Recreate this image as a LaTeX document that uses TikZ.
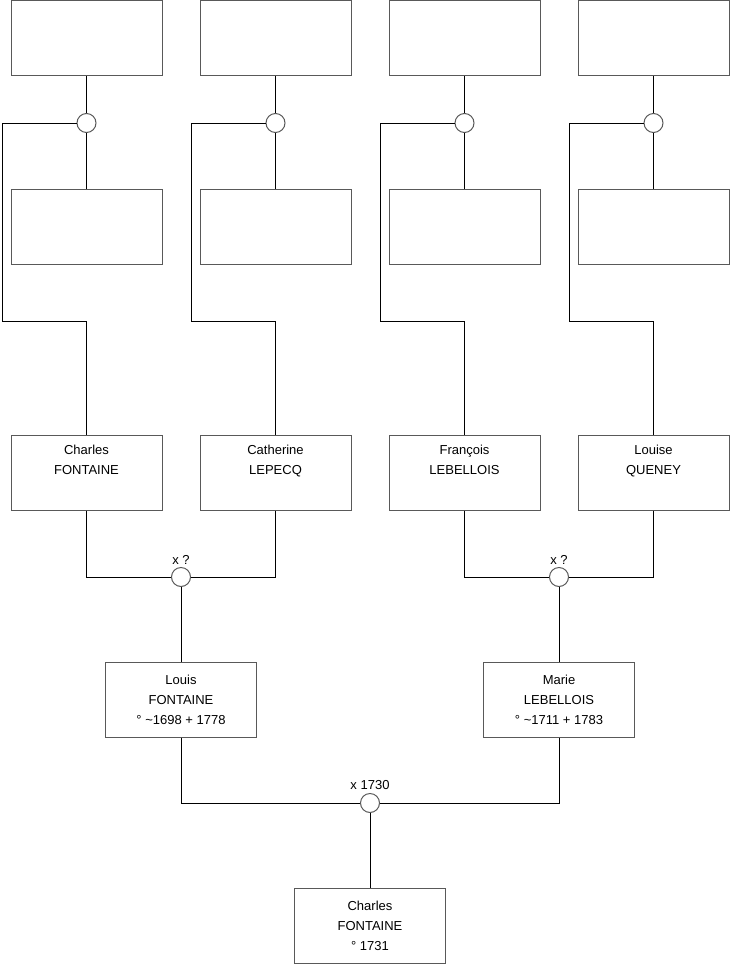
\documentclass[tikz,border=0pt]{standalone}
\usepackage{fontspec}
\setmainfont{Liberation Sans}
\usepackage{tikz}
\usetikzlibrary{positioning}

\tikzset{
  person/.style={draw=black!65, line width=0.75pt, fill=white, minimum width=113.25pt,
    minimum height=56.25pt, align=center, inner sep=0pt,
    font=\fontsize{9.75}{15}\selectfont},
  union/.style={circle, draw=black!65, line width=0.75pt, fill=white, minimum size=14.25pt, inner sep=0pt},
  wedlock/.style={font=\fontsize{9.75}{12}\selectfont, inner sep=2pt},
  link/.style={line width=0.75pt}
}

\begin{document}
\begin{tikzpicture}[x=0.75pt, y=-0.75pt]
        \useasboundingbox (0,0) rectangle (740,975);
        % great-grandparents (unknown) and their unions
        \foreach \i/\cx in {1/86.5, 2/275.5, 3/464.5, 4/653.5} {
            \node[person] (p\i f) at (\cx,38) {};
            \node[person] (p\i m) at (\cx,227) {};
            \node[union] (u\i) at (\cx,123) {};
        }
        % grandparents
        \node[person] (p1) at (86.5,472.5) {Charles\\FONTAINE\\\strut};
        \node[person] (p2) at (275.5,472.5) {Catherine\\LEPECQ\\\strut};
        \node[person] (p3) at (464.5,472.5) {François\\LEBELLOIS\\\strut};
        \node[person] (p4) at (653.5,472.5) {Louise\\QUENEY\\\strut};
        \node[union, label={[wedlock]above:x ?}] (c1) at (181,577) {};
        \node[union, label={[wedlock]above:x ?}] (c2) at (559,577) {};
        % parents
        \node[person] (louis) at (181,699.5) {Louis\\FONTAINE\\° \textasciitilde1698 + 1778};
        \node[person] (marie) at (559,699.5) {Marie\\LEBELLOIS\\° \textasciitilde1711 + 1783};
        \node[union, label={[wedlock]above:x 1730}] (c0) at (370,803) {};
        % subject
        \node[person] (charles) at (370,926) {Charles\\FONTAINE\\° 1731};
        % links above the grandparents
        \draw[link] (p1f) -- (u1) -- (p1m);
        \draw[link] (p2f) -- (u2) -- (p2m);
        \draw[link] (p3f) -- (u3) -- (p3m);
        \draw[link] (p4f) -- (u4) -- (p4m);
        \draw[link] (u1.west) -- (2,123) |- (86.5,321) -- (p1.north);
        \draw[link] (u2.west) -- (191,123) |- (275.5,321) -- (p2.north);
        \draw[link] (u3.west) -- (380,123) |- (464.5,321) -- (p3.north);
        \draw[link] (u4.west) -- (569,123) |- (653.5,321) -- (p4.north);
        % couples and children
        \draw[link] (p1.south) |- (c1.west);
        \draw[link] (p2.south) |- (c1.east);
        \draw[link] (c1) -- (louis);
        \draw[link] (p3.south) |- (c2.west);
        \draw[link] (p4.south) |- (c2.east);
        \draw[link] (c2) -- (marie);
        \draw[link] (louis.south) |- (c0.west);
        \draw[link] (marie.south) |- (c0.east);
        \draw[link] (c0) -- (charles);
\end{tikzpicture}
\end{document}
